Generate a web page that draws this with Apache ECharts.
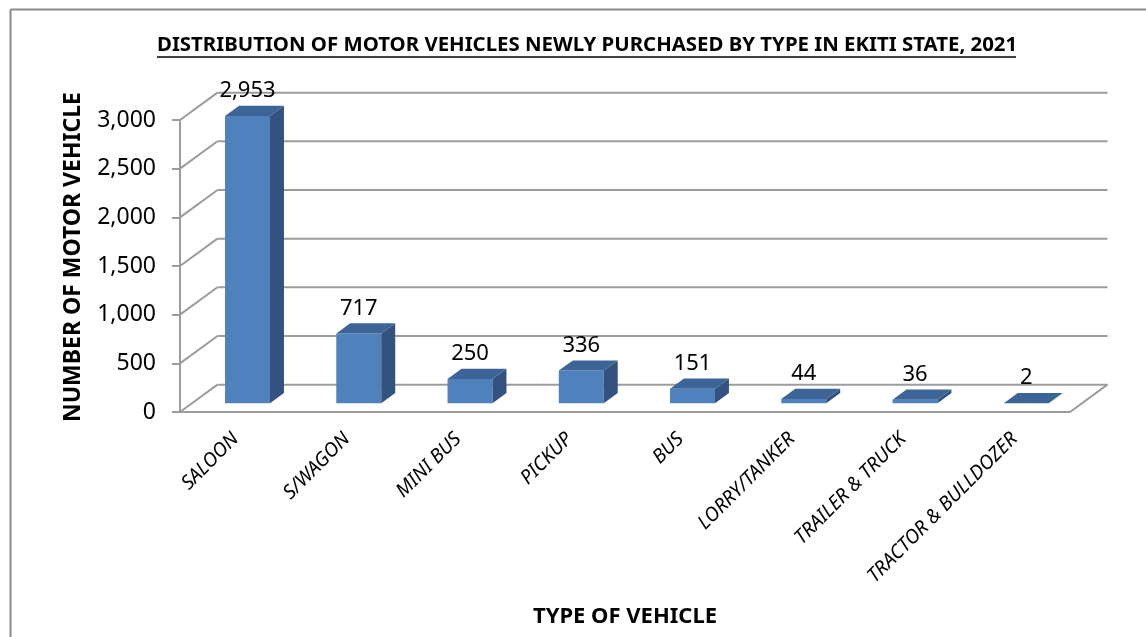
<!DOCTYPE html>
<html>
<head>
<meta charset="utf-8">
<script src="https://cdn.jsdelivr.net/npm/echarts@6/dist/echarts.min.js"></script>
<style>
html,body{margin:0;padding:0;background:#fff;}
#chart{width:1146px;height:637px;}
</style>
</head>
<body>
<div id="chart"></div>
<script>
var categories = ['SALOON', 'S/WAGON', 'MINI BUS', 'PICKUP', 'BUS', 'LORRY/TANKER', 'TRAILER & TRUCK', 'TRACTOR & BULLDOZER'];
var vehicleCounts = [2953, 717, 250, 336, 151, 44, 36, 2];
var yTicks = [0, 500, 1000, 1500, 2000, 2500, 3000];
var titleText = 'DISTRIBUTION OF MOTOR VEHICLES NEWLY PURCHASED BY TYPE IN EKITI STATE, 2021';
var yAxisTitle = 'NUMBER OF MOTOR VEHICLE';
var xAxisTitle = 'TYPE OF VEHICLE';

var FONT = '"Noto Sans", "Open Sans", sans-serif';
var GRID_COLOR = '#9C9C9C';
var DEPTH_X = 0.337;   // fraction of a category band
var DEPTH_Y = -0.73;   // dy per dx
var F0 = 0.317, F1 = 0.69, BAR_W = 0.404;

var chart = echarts.init(document.getElementById('chart'), null, {renderer: 'canvas'});

function fmt(v) { return v.toLocaleString('en-US'); }

var option = {
  animation: false,
  backgroundColor: '#ffffff',
  title: {
    text: titleText,
    left: 152,
    top: 30,
    textStyle: {fontFamily: FONT, fontWeight: 'bold', fontSize: 20.4, color: '#000'}
  },
  grid: {left: 180, right: 76, top: 120, bottom: 225, containLabel: false},
  xAxis: {
    type: 'category',
    data: categories,
    name: xAxisTitle,
    nameLocation: 'middle',
    nameGap: 194,
    nameTextStyle: {fontFamily: FONT, fontWeight: 'bold', fontSize: 22, color: '#000'},
    axisLine: {show: true, lineStyle: {color: GRID_COLOR, width: 2}},
    axisTick: {show: false},
    axisLabel: {
      rotate: 45, interval: 0, margin: 24,
      fontFamily: FONT, fontStyle: 'italic', fontSize: 19.5, color: '#000'
    },
    splitLine: {show: false}
  },
  yAxis: {
    type: 'value',
    min: 0, max: 3000, interval: 500,
    axisLine: {show: true, lineStyle: {color: GRID_COLOR, width: 2}},
    axisTick: {show: true, length: 8, lineStyle: {color: GRID_COLOR, width: 2}},
    axisLabel: {
      margin: 24, fontFamily: FONT, fontSize: 23, color: '#000',
      formatter: function (v) { return fmt(v); }
    },
    splitLine: {show: false}
  },
  graphic: [
    {type: 'line', shape: {x1: 10.5, y1: 9.5, x2: 1146, y2: 9.5}, style: {stroke: '#8A8A8A', lineWidth: 2}},
    {type: 'line', shape: {x1: 10.5, y1: 9.5, x2: 10.5, y2: 637}, style: {stroke: '#8A8A8A', lineWidth: 2}},
    {type: 'line', shape: {x1: 157, y1: 57, x2: 1016, y2: 57}, style: {stroke: '#000', lineWidth: 1.5}},
    {type: 'text', x: 73, y: 257, rotation: Math.PI / 2,
      style: {text: yAxisTitle, textAlign: 'center', textVerticalAlign: 'middle',
        font: 'bold 23px ' + FONT, fill: '#000'}}
  ],
  series: [
    {
      type: 'custom',
      z: 1,
      silent: true,
      data: yTicks.map(function (t) { return [t]; }),
      renderItem: function (params, api) {
        var v = api.value(0);
        var cs = params.coordSys;
        var band = api.size([1, 0])[0];
        var dx = band * DEPTH_X, dy = dx * DEPTH_Y;
        var y = api.coord([0, v])[1];
        var xl = cs.x, xr = cs.x + cs.width;
        var children = [
          {type: 'line', shape: {x1: xl, y1: y, x2: xl + dx, y2: y + dy}, style: {stroke: GRID_COLOR, lineWidth: 2}},
          {type: 'line', shape: {x1: xl + dx, y1: y + dy, x2: xr + dx, y2: y + dy}, style: {stroke: GRID_COLOR, lineWidth: 2}}
        ];
        if (v === 0) {
          children.push({type: 'line', shape: {x1: xr, y1: y, x2: xr + dx, y2: y + dy}, style: {stroke: GRID_COLOR, lineWidth: 2}});
        }
        return {type: 'group', children: children};
      }
    },
    {
      type: 'custom',
      z: 5,
      data: vehicleCounts.map(function (v, i) { return [i, v]; }),
      renderItem: function (params, api) {
        var i = api.value(0), v = api.value(1);
        var base = api.coord([i, 0]);
        var top = api.coord([i, v]);
        var band = api.size([1, 0])[0];
        var dx = band * DEPTH_X, dy = dx * DEPTH_Y;
        var w = band * BAR_W;
        var cx = base[0] + F0 * dx;
        var xl = cx - w / 2, xr = cx + w / 2;
        var yb = base[1] + F0 * dy, yt = top[1] + F0 * dy;
        var sdx = (F1 - F0) * dx, sdy = (F1 - F0) * dy;
        return {
          type: 'group',
          children: [
            {type: 'polygon', shape: {points: [[xl, yb], [xr, yb], [xr, yt], [xl, yt]]}, style: {fill: '#4F81BD'}},
            {type: 'polygon', shape: {points: [[xr, yb], [xr + sdx, yb + sdy], [xr + sdx, yt + sdy], [xr, yt]]}, style: {fill: '#33527F'}},
            {type: 'polygon', shape: {points: [[xl, yt], [xr, yt], [xr + sdx, yt + sdy], [xl + sdx, yt + sdy]]}, style: {fill: '#3C6496'}},
            {type: 'text', style: {
              x: cx, y: yt + sdy - 4, text: fmt(v), textAlign: 'center', textVerticalAlign: 'bottom',
              font: '22px ' + FONT, fill: '#000'
            }}
          ]
        };
      }
    }
  ]
};
chart.setOption(option);
</script>
</body>
</html>
